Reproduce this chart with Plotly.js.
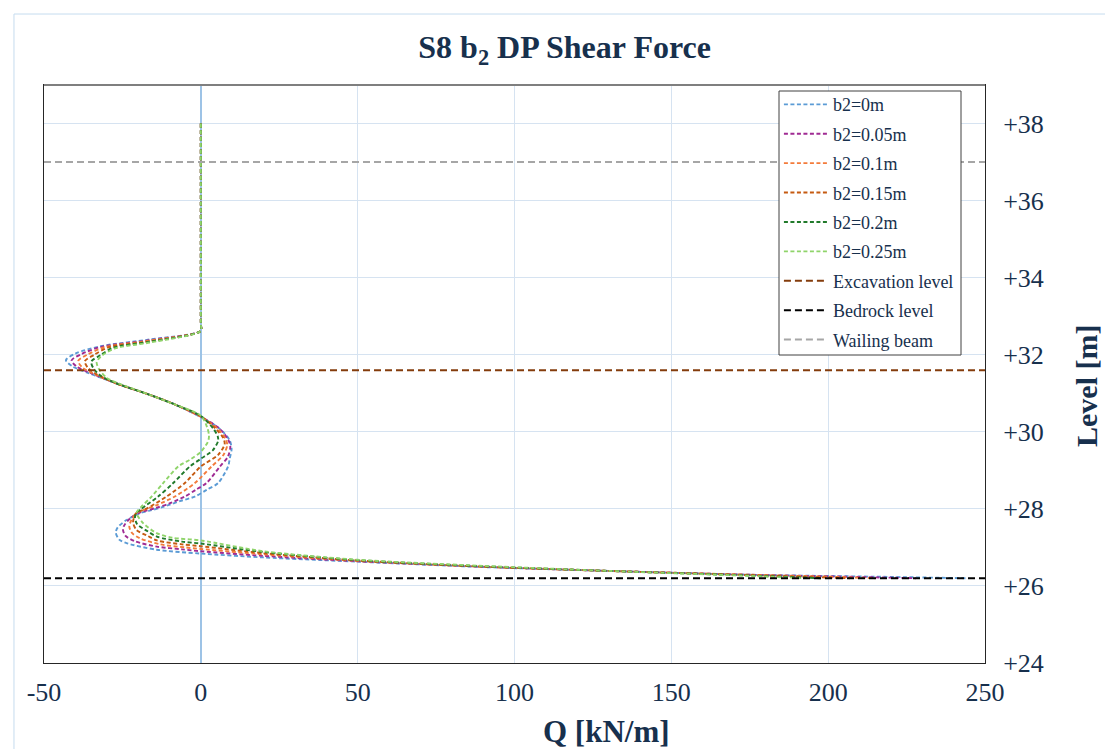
<!DOCTYPE html>
<html>
<head>
<meta charset="utf-8">
<script src="https://cdn.plot.ly/plotly-3.0.1.min.js"></script>
<style>html,body{margin:0;padding:0;background:#fff;}#chart{width:1105px;height:749px;}</style>
</head>
<body>
<div id="chart"></div>
<script>
// ---- Data (Q in kN/m, Level in m) ----
const seriesNames = ["b2=0m", "b2=0.05m", "b2=0.1m", "b2=0.15m", "b2=0.2m", "b2=0.25m"];
const seriesColors = ["#5b9bd5", "#a02b93", "#f37b3b", "#c55a11", "#217a2b", "#8fd46a"];

const q_b2_0   = [0, 0, 0, -16, -32, -40, -43, -41, -36, -27, -16.3, -8, 0, 6, 9.2, 9.8, 9.2, 8.7, 5.5, 2, -1.9, -6.7, -12, -16, -19.4, -23.7, -26.5, -27.1, -26, -23.7, -14.1, 0, 20, 50, 90, 130, 175, 215, 244];
const lv_b2_0  = [38, 32.8, 32.62, 32.40, 32.22, 32.03, 31.86, 31.70, 31.53, 31.26, 30.96, 30.70, 30.38, 30.08, 29.78, 29.55, 29.3, 29.1, 28.67, 28.5, 28.32, 28.2, 28.05, 27.96, 27.89, 27.71, 27.52, 27.38, 27.2, 27.11, 26.94, 26.84, 26.74, 26.63, 26.49, 26.39, 26.29, 26.24, 26.2];

const q_b2_005  = [0, 0, 0, -16, -31.5, -38, -41.2, -39.5, -35, -27, -16.3, -8, 0, 6, 8.7, 9.4, 8.6, 6.1, 1.8, -1.5, -5.1, -10, -14.5, -19.5, -22.6, -24.5, -24.8, -24, -21, -14, -6, 0, 20, 50, 90, 130, 175, 205, 228];
const lv_b2_005 = [38, 32.8, 32.62, 32.38, 32.21, 32.02, 31.85, 31.69, 31.52, 31.26, 30.96, 30.70, 30.39, 30.08, 29.8, 29.62, 29.35, 29.1, 28.67, 28.5, 28.32, 28.14, 28.02, 27.9, 27.75, 27.56, 27.45, 27.3, 27.16, 27.02, 26.95, 26.9, 26.78, 26.64, 26.5, 26.39, 26.29, 26.24, 26.2];

const q_b2_01  = [0, 0, 0, -16, -30.5, -36, -39.1, -37.8, -34, -27, -16.3, -8, 0, 5.5, 8, 8.4, 7.2, 3.4, -1.9, -8.3, -14, -18, -20.5, -22.2, -22.8, -22, -19.5, -13, -5, 0, 20, 50, 90, 130, 175, 200, 215];
const lv_b2_01 = [38, 32.8, 32.62, 32.37, 32.20, 32.01, 31.84, 31.67, 31.50, 31.26, 30.96, 30.70, 30.39, 30.07, 29.8, 29.65, 29.4, 29.1, 28.67, 28.32, 28.1, 27.98, 27.9, 27.7, 27.54, 27.38, 27.24, 27.08, 27.0, 26.96, 26.82, 26.65, 26.5, 26.39, 26.29, 26.24, 26.2];

const q_b2_015  = [0, 0, 0, -16, -29.5, -34, -37, -36, -33, -27, -16.3, -8, 0, 5, 7.2, 7.6, 5.5, 0, -5.1, -10.9, -17.5, -20.5, -21.4, -21.6, -20.5, -17, -14, -6, 0, 20, 50, 90, 130, 175, 207];
const lv_b2_015 = [38, 32.8, 32.62, 32.35, 32.19, 32.0, 31.83, 31.66, 31.48, 31.26, 30.96, 30.70, 30.4, 30.06, 29.83, 29.68, 29.4, 29.1, 28.67, 28.32, 28.0, 27.9, 27.75, 27.64, 27.45, 27.3, 27.18, 27.08, 27.03, 26.85, 26.66, 26.5, 26.39, 26.28, 26.2];

const q_b2_02  = [0, 0, 0, -16, -28, -32, -34.9, -34.2, -32, -27, -16.3, -8, 0, 4, 5.4, 5.5, 3.8, 0, -3.5, -8.8, -13.6, -19, -20.5, -21, -20.3, -17, -14, -6, 0, 20, 50, 90, 130, 175, 198];
const lv_b2_02 = [38, 32.8, 32.62, 32.34, 32.18, 31.99, 31.82, 31.64, 31.46, 31.26, 30.96, 30.70, 30.41, 30.08, 29.88, 29.76, 29.52, 29.3, 29.1, 28.67, 28.32, 28.0, 27.9, 27.78, 27.6, 27.42, 27.28, 27.15, 27.1, 26.88, 26.67, 26.51, 26.39, 26.27, 26.2];

const q_b2_025  = [0, 0, 0, -16, -27, -31.5, -33.2, -32.5, -30, -27, -16.3, -8, 0, 2, 2.6, 2.3, 0, -3, -7.2, -12, -15.7, -19, -20.5, -18.4, -14.1, -9, 0, 20, 50, 90, 130, 175, 192];
const lv_b2_025 = [38, 32.8, 32.62, 32.32, 32.17, 31.98, 31.81, 31.63, 31.40, 31.28, 30.96, 30.70, 30.42, 30.12, 29.9, 29.75, 29.48, 29.3, 29.1, 28.67, 28.32, 28.05, 27.9, 27.63, 27.37, 27.25, 27.18, 26.9, 26.68, 26.52, 26.39, 26.26, 26.2];

const levelNames  = ["Excavation level", "Bedrock level", "Wailing beam"];
const levelValues = [31.6, 26.2, 37.0];
const levelColors = ["#843c0c", "#000000", "#a6a6a6"];
const levelQSpan  = [-50, 250];

const xTickVals = [-50, 0, 50, 100, 150, 200, 250];
const xTickText = ["-50", "0", "50", "100", "150", "200", "250"];
const yTickVals = [24, 26, 28, 30, 32, 34, 36, 38];
const yTickText = ["+24", "+26", "+28", "+30", "+32", "+34", "+36", "+38"];

// ---- Build traces ----
const qs = [q_b2_0, q_b2_005, q_b2_01, q_b2_015, q_b2_02, q_b2_025];
const lvs = [lv_b2_0, lv_b2_005, lv_b2_01, lv_b2_015, lv_b2_02, lv_b2_025];
const FONT = "Liberation Serif, 'Times New Roman', Times, serif";
const TXT = "#17304d";

const traces = [];
for (let i = 0; i < seriesNames.length; i++) {
  traces.push({
    x: qs[i], y: lvs[i], name: seriesNames[i], type: "scatter", mode: "lines",
    legendgroup: "g" + i,
    line: {color: seriesColors[i], width: 1.9, dash: "4px,2.5px", shape: "spline", smoothing: 0.8}
  });
}
for (let j = 0; j < levelNames.length; j++) {
  traces.push({
    x: levelQSpan, y: [levelValues[j], levelValues[j]], name: levelNames[j], type: "scatter", mode: "lines",
    legendgroup: "l" + j,
    line: {color: levelColors[j], width: 2, dash: "7px,4px"}
  });
}

const layout = {
  width: 1105, height: 749,
  paper_bgcolor: "#ffffff", plot_bgcolor: "#ffffff",
  margin: {l: 44, r: 120, t: 85, b: 86},
  font: {family: FONT, color: TXT},
  title: {
    text: "S8 b<sub>2</sub> DP Shear Force",
    font: {family: FONT, size: 32, color: TXT, weight: "bold"},
    x: 0.511, xanchor: "center", y: 0.937, yanchor: "middle", xref: "container", yref: "container"
  },
  xaxis: {
    range: [-50, 250], tickvals: xTickVals, ticktext: xTickText, showgrid: true, gridcolor: "#d6e3f1", gridwidth: 1,
    zeroline: true, zerolinecolor: "#9dc3e6", zerolinewidth: 1.6,
    showline: true, linecolor: "#262626", linewidth: 1, mirror: true,
    ticks: "", tickfont: {family: FONT, size: 26, color: TXT}, ticklabelstandoff: 6
  },
  yaxis: {
    range: [24, 39], side: "right", tickvals: yTickVals, ticktext: yTickText,
    showgrid: true, gridcolor: "#d6e3f1", gridwidth: 1, zeroline: false,
    showline: true, linecolor: "#262626", linewidth: 1, mirror: true,
    ticks: "", tickfont: {family: FONT, size: 26, color: TXT}, ticklabelstandoff: 12
  },
  legend: {
    x: 0.781, y: 0.998, xanchor: "left", yanchor: "top",
    bgcolor: "rgba(0,0,0,0)", borderwidth: 0,
    font: {family: FONT, size: 18, color: TXT},
    traceorder: "grouped", tracegroupgap: 3, itemwidth: 44
  },
  showlegend: true,
  annotations: [
    {text: "Q [kN/m]", xref: "paper", yref: "paper", x: 0.598, y: (663 - 731) / 578,
     xanchor: "center", yanchor: "middle", showarrow: false,
     font: {family: FONT, size: 31, color: TXT, weight: "bold"}},
    {text: "Level [m]", xref: "paper", yref: "paper", x: (1086 - 44) / 941, y: (663 - 386) / 578,
     xanchor: "center", yanchor: "middle", showarrow: false, textangle: -90,
     font: {family: FONT, size: 30, color: TXT, weight: "bold"}}
  ],
  shapes: [
    {type: "rect", xref: "paper", yref: "paper", x0: -0.0319, x1: 1.3, y0: -0.3, y1: 1.1228,
     line: {color: "#c5dcef", width: 1}, fillcolor: "rgba(0,0,0,0)", layer: "below"},
    {type: "line", xref: "paper", yref: "paper", x0: 0, x1: 1, y0: 1, y1: 1,
     line: {color: "#7f7f7f", width: 2}, layer: "above"},
    {type: "rect", xref: "paper", yref: "paper", x0: (779 - 44) / 941, x1: (961 - 44) / 941,
     y0: (663 - 355) / 578, y1: (663 - 91) / 578,
     line: {color: "#404040", width: 1}, fillcolor: "#ffffff", layer: "above"}
  ]
};

Plotly.newPlot("chart", traces, layout, {displayModeBar: false, staticPlot: true});
</script>
</body>
</html>
